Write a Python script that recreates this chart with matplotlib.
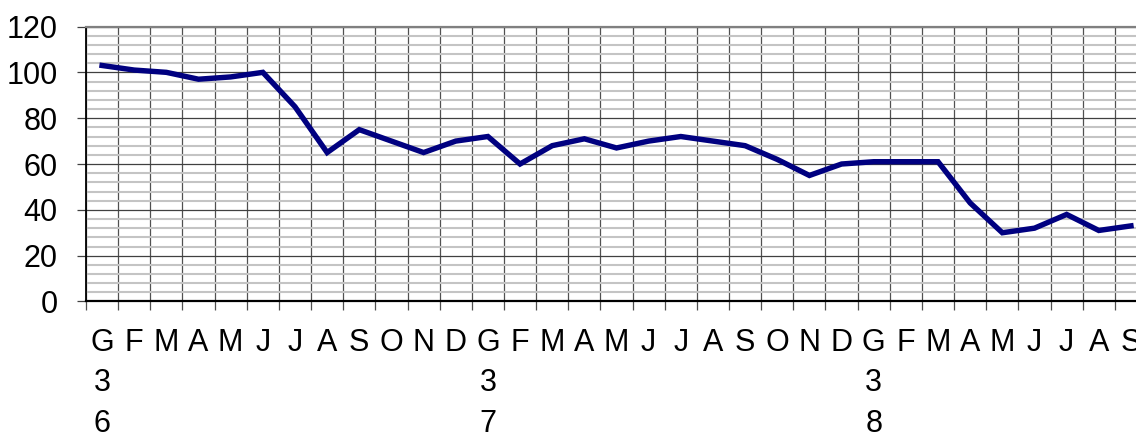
import matplotlib

matplotlib.use("Agg")

import matplotlib.pyplot as plt
import numpy as np
from matplotlib.ticker import FixedLocator, MultipleLocator

plt.rcParams["font.family"] = ["Liberation Sans", "DejaVu Sans"]

# monthly values, Jan 36 .. Sep 38 (Italian month initials)
months = ["G", "F", "M", "A", "M", "J", "J", "A", "S", "O", "N", "D"] * 2 + \
    ["G", "F", "M", "A", "M", "J", "J", "A", "S"]
years = {0: "3\n6", 12: "3\n7", 24: "3\n8"}
values = [103, 101, 100, 97, 98, 100, 85, 65, 75, 70, 65, 70,
          72, 60, 68, 71, 67, 70, 72, 70, 68, 62, 55, 60,
          61, 61, 61, 43, 30, 32, 38, 31, 33]

labels = []
for i, m in enumerate(months):
    labels.append(m + "\n" + years[i] if i in years else m)

fig = plt.figure(figsize=(11.36, 4.34), dpi=100)
ax = fig.add_axes([0.0757, 0.3053, 0.934, 0.6336])

x = np.arange(len(values)) + 0.5
ax.plot(x, values, color="#000080", linewidth=3.9, solid_joinstyle="miter", zorder=5)

ax.set_xlim(0, len(values))
ax.set_ylim(0, 120)

# y grid: light minor every 4, dark major every 20
ax.yaxis.set_major_locator(MultipleLocator(20))
ax.yaxis.set_minor_locator(MultipleLocator(4))
ax.grid(which="minor", axis="y", color="#c4c4c4", linewidth=1.5)
ax.grid(which="major", axis="y", color="#404040", linewidth=0.9)

# x: labels at centres, ticks/grid at category boundaries
ax.xaxis.set_major_locator(FixedLocator(x))
ax.xaxis.set_minor_locator(FixedLocator(np.arange(len(values) + 1)))
ax.set_xticklabels(labels, linespacing=1.45)
ax.grid(which="minor", axis="x", color="#505050", linewidth=0.9)
ax.tick_params(axis="x", which="major", length=0, pad=19, labelsize=22)
ax.tick_params(axis="x", which="minor", length=6.5, width=0.9, color="#505050")
ax.tick_params(axis="y", which="major", length=6.5, width=0.9, color="#404040",
               pad=14, labelsize=22)
ax.tick_params(axis="y", which="minor", length=0)
ax.set_axisbelow(True)

ax.spines["left"].set_linewidth(1.3)
ax.spines["bottom"].set_linewidth(1.6)
ax.spines["top"].set_color("#808080")
ax.spines["top"].set_linewidth(1.6)
ax.spines["right"].set_visible(False)

fig.savefig("out.png", dpi=100)
